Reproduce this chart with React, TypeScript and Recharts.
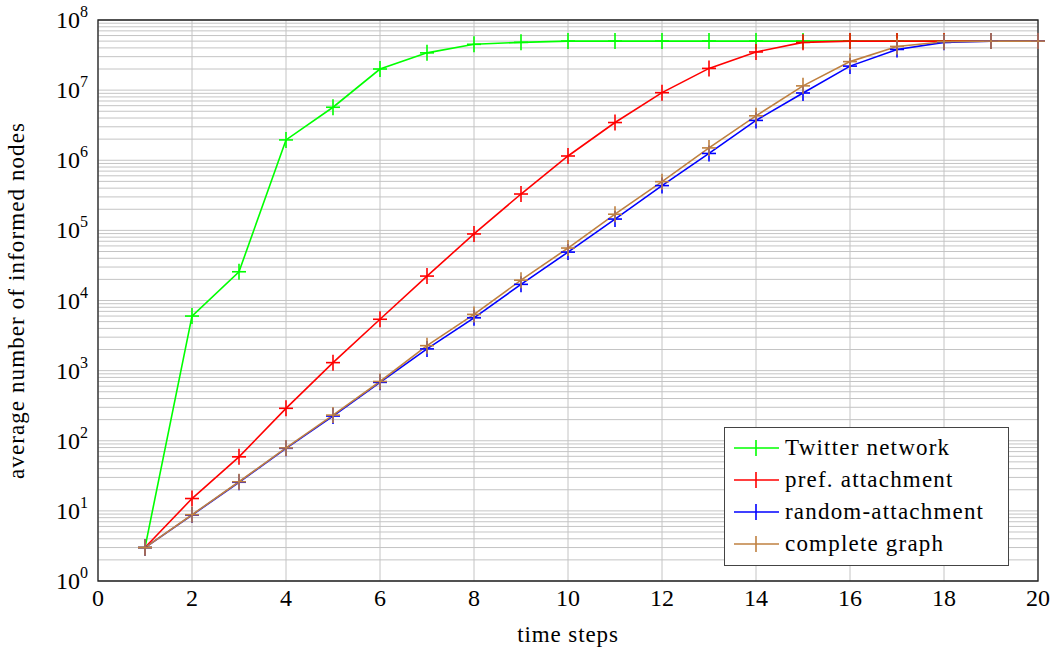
import React from "react";
import {
  CartesianGrid,
  Line,
  LineChart,
  ReferenceArea,
  XAxis,
  YAxis,
} from "recharts";

const steps = [1, 2, 3, 4, 5, 6, 7, 8, 9, 10, 11, 12, 13, 14, 15, 16, 17, 18, 19, 20];

const twitter = [
  3, 6000, 25700, 1.95e6, 5.7e6, 2.0e7, 3.4e7, 4.5e7, 4.8e7, 5.0e7,
  5.0e7, 5.0e7, 5.0e7, 5.0e7, 5.0e7, 5.0e7, 5.0e7, 5.0e7, 5.0e7, 5.0e7,
];
const prefAttachment = [
  3, 15, 59, 290, 1300, 5400, 22300, 89000, 3.3e5, 1.15e6,
  3.45e6, 9.2e6, 2.04e7, 3.5e7, 4.8e7, 5.0e7, 5.0e7, 5.0e7, 5.0e7, 5.0e7,
];
const randomAttachment = [
  3, 8.7, 25.6, 78, 225, 680, 2040, 5660, 17000, 49000,
  1.45e5, 4.35e5, 1.25e6, 3.7e6, 9.1e6, 2.2e7, 3.8e7, 4.8e7, 5.0e7, 5.0e7,
];
const completeGraph = [
  3, 8.8, 26, 79, 232, 700, 2270, 6340, 19500, 56000,
  1.7e5, 4.95e5, 1.5e6, 4.3e6, 1.15e7, 2.55e7, 4.2e7, 4.9e7, 5.0e7, 5.0e7,
];

const xTicks = [0, 2, 4, 6, 8, 10, 12, 14, 16, 18, 20];
const yMajor = [1, 10, 100, 1e3, 1e4, 1e5, 1e6, 1e7, 1e8];
// grid lines at every 1..9 multiple inside each decade
const yGrid = yMajor.flatMap((m, i) =>
  i < yMajor.length - 1 ? [1, 2, 3, 4, 5, 6, 7, 8, 9].map((k) => k * m) : [m]
);

const series = [
  { key: "twitter", name: "Twitter network", color: "#00ff00" },
  { key: "pref", name: "pref. attachment", color: "#ff0000" },
  { key: "random", name: "random-attachment", color: "#0000ff" },
  { key: "complete", name: "complete graph", color: "#bf8040" },
];

const data = steps.map((x, i) => ({
  x,
  twitter: twitter[i],
  pref: prefAttachment[i],
  random: randomAttachment[i],
  complete: completeGraph[i],
}));

const FONT = "Liberation Serif, serif";

const plusDot = (color: string) => (props: any) => {
  const { cx, cy, index } = props;
  if (cx == null || cy == null) return <g key={index} />;
  return (
    <g key={index}>
      <line x1={cx - 7} x2={cx + 7} y1={cy} y2={cy} stroke={color} strokeWidth={1.6} />
      <line x1={cx} x2={cx} y1={cy - 8} y2={cy + 8} stroke={color} strokeWidth={1.6} />
    </g>
  );
};

const EmptyTick = () => <g />;

const YTick = (props: any) => {
  const { x, y, payload } = props;
  const v = payload.value;
  const exp = Math.round(Math.log10(v));
  if (Math.abs(Math.pow(10, exp) - v) > 1e-6 * v) return <g />;
  return (
    <text x={x} y={y + 8} textAnchor="end" style={{ fontFamily: FONT }} fontSize={24} fill="#000">
      <tspan>10</tspan>
      <tspan dy={-11} fontSize={16}>
        {exp}
      </tspan>
    </text>
  );
};

const LegendBox = () => (
  <div
    style={{
      position: "absolute",
      left: 724,
      top: 427,
      width: 285,
      border: "1px solid #444",
      background: "#fff",
      padding: "4px 0 5px 0",
      fontFamily: FONT,
      fontSize: 23,
      boxSizing: "border-box",
    }}
  >
    {series.map((s) => (
      <div key={s.key} style={{ height: 32, display: "flex", alignItems: "center" }}>
        <svg width={60} height={32} style={{ flex: "none" }}>
          <line x1={9} x2={54} y1={16} y2={16} stroke={s.color} strokeWidth={1.6} />
          <line x1={31} x2={31} y1={8} y2={24} stroke={s.color} strokeWidth={1.6} />
        </svg>
        <span style={{ color: "#000", letterSpacing: 1.2, whiteSpace: "nowrap" }}>{s.name}</span>
      </div>
    ))}
  </div>
);

export default function App() {
  return (
    <div style={{ position: "absolute", left: 0, top: 0, width: 1054, height: 652, background: "#fff" }}>
      <LineChart
        width={1054}
        height={652}
        data={data}
        margin={{ top: 20, right: 16, bottom: 0, left: 0 }}
        style={{ fontFamily: FONT }}
      >
        <CartesianGrid stroke="#c4c4c4" strokeWidth={1} />
        <XAxis
          dataKey="x"
          type="number"
          domain={[0, 20]}
          ticks={xTicks}
          interval={0}
          height={71}
          tickSize={0}
          tickMargin={8}
          axisLine={false}
          tick={{ fontFamily: FONT, fontSize: 24, fill: "#000" }}
          label={{
            value: "time steps",
            position: "insideBottom",
            offset: 10,
            fontFamily: FONT,
            fontSize: 23,
            fill: "#000",
            style: { fontFamily: FONT, letterSpacing: 0.9 },
          }}
        />
        <XAxis
          xAxisId="top"
          dataKey="x"
          type="number"
          domain={[0, 20]}
          ticks={xTicks}
          interval={0}
          orientation="top"
          mirror
          height={0}
          tickSize={6}
          axisLine={false}
          tickLine={{ stroke: "#555" }}
          tick={<EmptyTick />}
        />
        <YAxis
          scale="log"
          domain={[1, 1e8]}
          allowDataOverflow
          ticks={yGrid}
          interval={0}
          width={98}
          tickSize={0}
          tickMargin={10}
          axisLine={false}
          tick={<YTick />}
          label={{
            value: "average number of informed nodes",
            angle: -90,
            position: "insideLeft",
            offset: 16,
            fontFamily: FONT,
            fontSize: 23,
            fill: "#000",
            style: { textAnchor: "middle", fontFamily: FONT, letterSpacing: 1.1 },
          }}
        />
        <YAxis
          yAxisId="right"
          orientation="right"
          mirror
          width={0}
          scale="log"
          domain={[1, 1e8]}
          allowDataOverflow
          ticks={yMajor}
          interval={0}
          tickSize={6}
          axisLine={false}
          tickLine={{ stroke: "#555" }}
          tick={<EmptyTick />}
        />
        <ReferenceArea
          x1={0}
          x2={20}
          y1={1}
          y2={1e8}
          fill="none"
          stroke="#222"
          strokeWidth={1.3}
          ifOverflow="visible"
        />
        {series.map((s) => (
          <Line
            key={s.key}
            type="linear"
            dataKey={s.key}
            name={s.name}
            stroke={s.color}
            strokeWidth={1.6}
            dot={plusDot(s.color)}
            activeDot={false}
            isAnimationActive={false}
          />
        ))}
      </LineChart>
      <LegendBox />
    </div>
  );
}
